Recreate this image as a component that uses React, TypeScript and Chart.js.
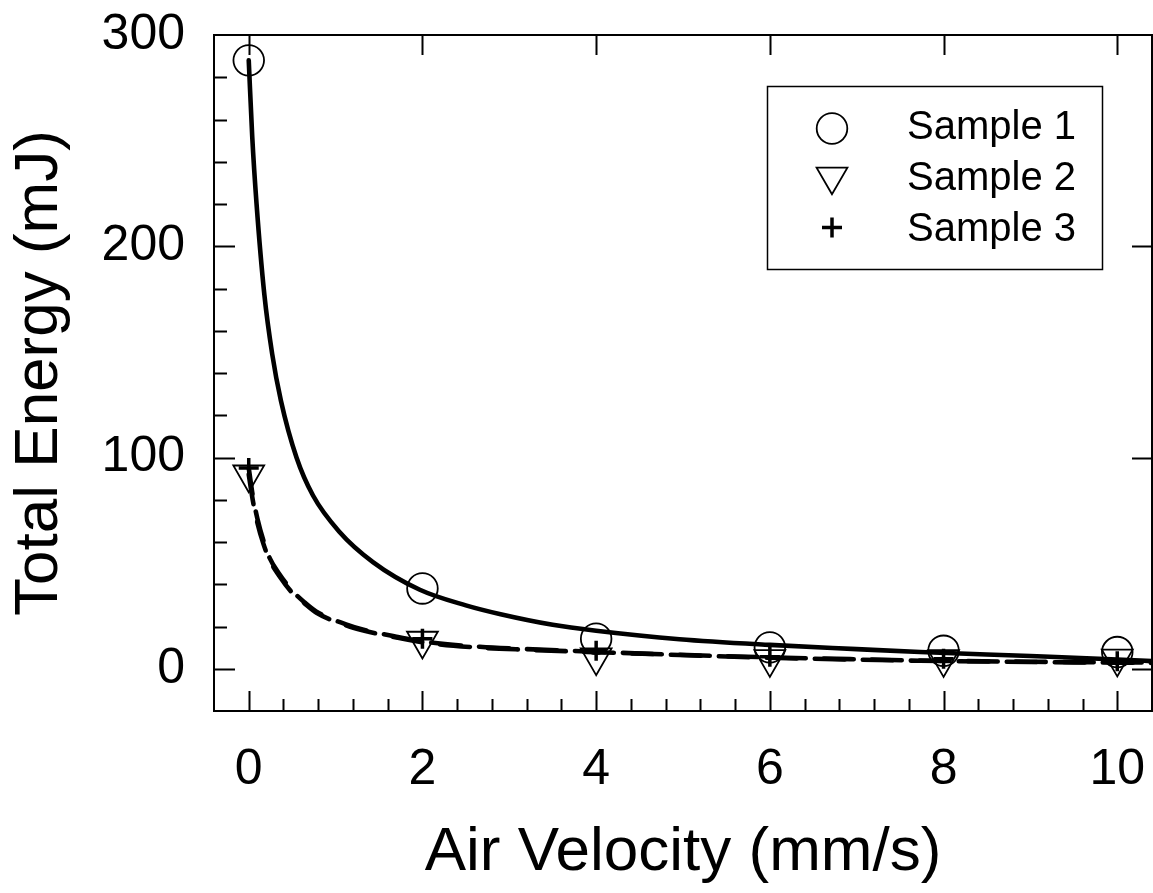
import React, { useEffect, useRef } from 'react';
import { Chart, registerables } from 'chart.js';

Chart.register(...registerables);

// ---- data ----
const velocities = [0, 2, 4, 6, 8, 10];
const sample1 = [288, 38, 14.2, 10.1, 8.5, 7.9];
const sample2 = [92, 13.3, 5.4, 4.6, 4.6, 4.8];
const sample3 = [95, 14.2, 8.5, 5.7, 4.7, 3.5];

// fitted curves
const fit1X = [0, 0.04, 0.09, 0.18, 0.27, 0.37, 0.55, 0.74, 1.04, 1.43, 1.97, 2.5, 2.9, 3.5, 4.0, 4.96, 6.0, 7.0, 7.73, 9.0, 10.0, 10.4];
const fit1Y = [288, 252, 220, 177, 149, 127, 100, 82, 65, 50.5, 37.4, 30, 25.8, 20.8, 18, 14, 11.3, 9.3, 7.9, 6.0, 4.4, 3.6];
const fitDashX = [0, 0.05, 0.1, 0.17, 0.24, 0.35, 0.5, 0.64, 0.78, 1.12, 1.31, 1.7, 2.08, 2.66, 3.2, 3.89, 4.96, 6.0, 7.0, 7.73, 9.0, 10.0, 10.4];
const fit2Y = [92, 79, 69, 59, 51.5, 44, 36, 31, 26.5, 20.5, 18.2, 14.8, 12.1, 10.0, 9.0, 8.0, 6.6, 5.4, 4.5, 3.9, 3.3, 3.0, 2.9];
const fit3Y = [95, 81, 71, 60.5, 52.5, 45, 37, 31.5, 27, 21, 18.6, 15.2, 12.5, 10.4, 9.3, 8.2, 6.5, 5.2, 4.3, 3.8, 3.2, 2.9, 2.8];

const seriesLabels = ['Sample 1', 'Sample 2', 'Sample 3'];
const xMajorTicks = [0, 2, 4, 6, 8, 10];
const yMajorTicks = [0, 100, 200, 300];
const X_MIN = -0.4;
const X_MAX = 10.4;
const Y_MIN = -20;
const Y_MAX = 300;
const X_MINOR_STEP = 0.4;
const Y_MINOR_STEP = 20;

const xAxisTitle = 'Air Velocity (mm/s)';
const yAxisTitle = 'Total Energy (mJ)';

const FONT = '"Liberation Sans", Arial, Helvetica, sans-serif';

const toPoints = (xs: number[], ys: number[]) => xs.map((x, i) => ({ x, y: ys[i] }));

function drawMarker(ctx: CanvasRenderingContext2D, style: string, x: number, y: number) {
  ctx.save();
  ctx.strokeStyle = '#000';
  ctx.beginPath();
  if (style === 'circle') {
    ctx.lineWidth = 1.8;
    ctx.arc(x, y, 15.3, 0, Math.PI * 2);
  } else if (style === 'triangle') {
    ctx.lineWidth = 1.8;
    const r = 17.8;
    for (let k = 0; k < 3; k++) {
      const a = Math.PI + (k * 2 * Math.PI) / 3;
      const px = x + Math.sin(a) * r;
      const py = y - Math.cos(a) * r;
      if (k === 0) ctx.moveTo(px, py);
      else ctx.lineTo(px, py);
    }
    ctx.closePath();
  } else {
    ctx.lineWidth = 3.5;
    ctx.moveTo(x - 10, y);
    ctx.lineTo(x + 10, y);
    ctx.moveTo(x, y - 10);
    ctx.lineTo(x, y + 10);
  }
  ctx.stroke();
  ctx.restore();
}

const framePlugin = {
  id: 'frameTicksLegend',
  afterDraw(chart: any) {
    const { ctx, chartArea: a, scales } = chart;
    const xs = scales.x;
    const ys = scales.y;
    ctx.save();
    ctx.strokeStyle = '#000';
    ctx.lineWidth = 2;
    ctx.strokeRect(a.left, a.top, a.right - a.left, a.bottom - a.top);
    ctx.beginPath();
    // x ticks (bottom: major + minor, top: major)
    const nx = Math.round((X_MAX - X_MIN) / X_MINOR_STEP);
    for (let k = 1; k < nx; k++) {
      const v = X_MIN + k * X_MINOR_STEP;
      const px = Math.round(xs.getPixelForValue(v)) + 0.5;
      const major = xMajorTicks.some((t) => Math.abs(t - v) < 1e-6);
      const len = major ? 20 : 12;
      ctx.moveTo(px, a.bottom);
      ctx.lineTo(px, a.bottom - len);
      if (major) {
        ctx.moveTo(px, a.top);
        ctx.lineTo(px, a.top + 20);
      }
    }
    // y ticks (left: major + minor, right: major)
    const ny = Math.round((Y_MAX - Y_MIN) / Y_MINOR_STEP);
    for (let k = 1; k < ny; k++) {
      const v = Y_MIN + k * Y_MINOR_STEP;
      const py = Math.round(ys.getPixelForValue(v)) + 0.5;
      const major = yMajorTicks.some((t) => Math.abs(t - v) < 1e-6);
      const len = major ? 21 : 13;
      ctx.moveTo(a.left, py);
      ctx.lineTo(a.left + len, py);
      if (major) {
        ctx.moveTo(a.right, py);
        ctx.lineTo(a.right - 20, py);
      }
    }
    ctx.stroke();

    // legend
    const boxLeft = a.right - 385;
    const boxTop = a.top + 51;
    const boxW = 335;
    const boxH = 183;
    ctx.lineWidth = 1.5;
    ctx.strokeRect(boxLeft + 0.5, boxTop + 0.5, boxW, boxH);
    const styles = ['circle', 'triangle', 'cross'];
    const rowY = [boxTop + 42, boxTop + 93, boxTop + 144];
    const markerDy = [0.5, -2.5, -2.5];
    ctx.font = `40px ${FONT}`;
    ctx.fillStyle = '#000';
    ctx.textAlign = 'left';
    ctx.textBaseline = 'middle';
    seriesLabels.forEach((lab, i) => {
      drawMarker(ctx, styles[i], boxLeft + 65, rowY[i] + markerDy[i]);
      ctx.fillText(lab, boxLeft + 140, rowY[i]);
    });
    ctx.restore();
  },
};

const noPad = (scale: any) => {
  scale.paddingTop = 0;
  scale.paddingBottom = 0;
  scale.paddingLeft = 0;
  scale.paddingRight = 0;
};

export default function App() {
  const ref = useRef<HTMLCanvasElement | null>(null);

  useEffect(() => {
    if (!ref.current) return;
    const lineCommon = {
      showLine: true,
      pointRadius: 0,
      pointHoverRadius: 0,
      borderColor: '#000',
      backgroundColor: 'transparent',
      borderWidth: 4.6,
      cubicInterpolationMode: 'monotone' as const,
      borderCapStyle: 'round' as const,
      borderJoinStyle: 'round' as const,
      fill: false,
    };
    const chart = new Chart(ref.current, {
      type: 'scatter',
      data: {
        datasets: [
          {
            label: seriesLabels[0],
            data: toPoints(velocities, sample1),
            pointStyle: 'circle',
            pointRadius: 15.3,
            pointBorderWidth: 1.8,
            borderColor: '#000',
            backgroundColor: 'transparent',
          },
          {
            label: seriesLabels[1],
            data: toPoints(velocities, sample2),
            pointStyle: 'triangle',
            rotation: 180,
            pointRadius: 17.8,
            pointBorderWidth: 1.8,
            borderColor: '#000',
            backgroundColor: 'transparent',
          },
          {
            label: seriesLabels[2],
            data: toPoints(velocities, sample3),
            pointStyle: 'cross',
            pointRadius: 10,
            pointBorderWidth: 3.5,
            borderColor: '#000',
            backgroundColor: 'transparent',
          },
          { ...lineCommon, label: 'Fit 1', data: toPoints(fit1X, fit1Y) },
          { ...lineCommon, label: 'Fit 2', data: toPoints(fitDashX, fit2Y), borderDash: [30, 18] },
          { ...lineCommon, label: 'Fit 3', data: toPoints(fitDashX, fit3Y), borderDash: [30, 18], borderDashOffset: 4 },
        ] as any,
      },
      options: {
        animation: false,
        responsive: false,
        devicePixelRatio: 1,
        events: [],
        layout: { autoPadding: false, padding: { top: 35, right: 1, left: 0, bottom: 0 } },
        plugins: {
          legend: { display: false },
          tooltip: { enabled: false },
          title: { display: false },
        },
        scales: {
          x: {
            type: 'linear',
            min: X_MIN,
            max: X_MAX,
            grid: { display: false, drawTicks: false },
            border: { display: false },
            afterBuildTicks: (scale: any) => {
              scale.ticks = xMajorTicks.map((v) => ({ value: v }));
            },
            afterFit: (scale: any) => {
              scale.height = 182;
              noPad(scale);
            },
            ticks: {
              padding: 0,
              color: '#000',
              font: { family: FONT, size: 50, lineHeight: 2.36 },
              maxRotation: 0,
              autoSkip: false,
            },
            title: {
              display: true,
              text: xAxisTitle,
              color: '#000',
              font: { family: FONT, size: 62 },
              padding: { top: 0, bottom: 3 },
            },
          },
          y: {
            type: 'linear',
            min: Y_MIN,
            max: Y_MAX,
            grid: { display: false, drawTicks: false },
            border: { display: false },
            afterBuildTicks: (scale: any) => {
              scale.ticks = yMajorTicks.map((v) => ({ value: v }));
            },
            afterFit: (scale: any) => {
              scale.width = 214;
              noPad(scale);
            },
            ticks: {
              padding: 29,
              color: '#000',
              font: { family: FONT, size: 50 },
              autoSkip: false,
            },
            title: {
              display: true,
              text: yAxisTitle,
              color: '#000',
              font: { family: FONT, size: 62 },
              padding: { top: 3, bottom: 0 },
            },
          },
        },
      } as any,
      plugins: [framePlugin],
    });
    return () => chart.destroy();
  }, []);

  return (
    <div style={{ position: 'absolute', left: 0, top: 0, width: 1153, height: 893, background: '#fff' }}>
      <canvas ref={ref} width={1153} height={893} />
    </div>
  );
}
